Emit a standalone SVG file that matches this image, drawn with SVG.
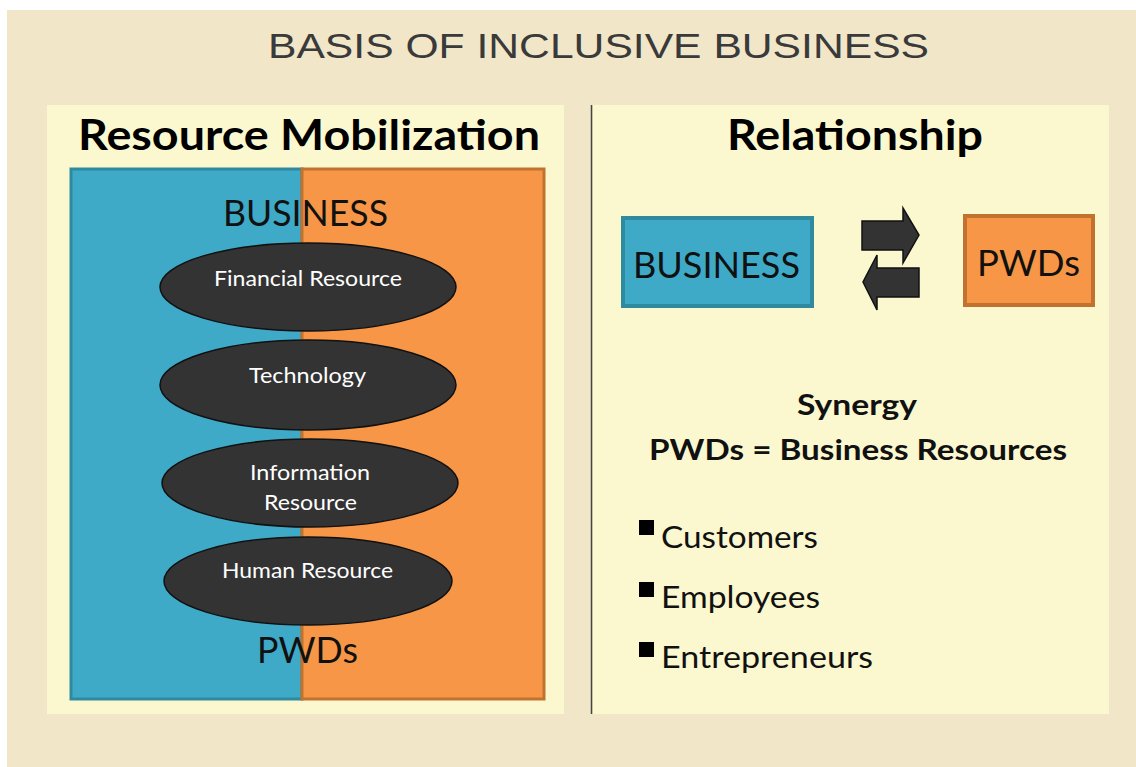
<svg xmlns="http://www.w3.org/2000/svg" width="1136" height="767" viewBox="0 0 1136 767">
<style>
.t{font-family:Lato,"Liberation Sans",sans-serif;}
.b{font-weight:bold;}
.ell{fill:#333333;stroke:#111111;stroke-width:1.5;}
.et{fill:#ffffff;font-size:21px;text-anchor:start;}
.arr{fill:#333333;stroke:#111111;stroke-width:1.5;}
.bul{fill:#000000;}
.li{font-size:30px;fill:#111111;}
</style>
<rect x="0" y="0" width="1136" height="767" fill="#ffffff"/>
<rect x="7" y="10" width="1129" height="757" fill="#f1e7c8"/>
<g id="title"><text x="268" y="58" font-family="'Liberation Sans',Arial,sans-serif" font-size="35" fill="#3a3a3a" textLength="661" lengthAdjust="spacingAndGlyphs">BASIS OF INCLUSIVE BUSINESS</text></g>

<g id="left-panel">
<rect x="47" y="105" width="517" height="609" fill="#fbf8d0"/>
<text class="t b" x="78" y="150" font-size="42" fill="#000" textLength="462" lengthAdjust="spacingAndGlyphs">Resource Mobilization</text>
<rect x="71" y="169" width="231" height="530" fill="#3eaac8" stroke="#2f8aa0" stroke-width="3"/>
<rect x="302" y="169" width="242" height="530" fill="#f79646" stroke="#c0722e" stroke-width="3"/>
<text class="t" x="223" y="226" font-size="36" fill="#111" textLength="165" lengthAdjust="spacingAndGlyphs">BUSINESS</text>
<text class="t" x="257" y="663" font-size="36" fill="#111" textLength="101" lengthAdjust="spacingAndGlyphs">PWDs</text>
</g>

<g id="financial"><ellipse class="ell" cx="308" cy="287" rx="148" ry="44"/><text class="t et" x="214" y="286" textLength="188" lengthAdjust="spacingAndGlyphs">Financial Resource</text></g>
<g id="technology"><ellipse class="ell" cx="308" cy="385" rx="148" ry="45"/><text class="t et" x="249" y="383" textLength="117" lengthAdjust="spacingAndGlyphs">Technology</text></g>
<g id="information"><ellipse class="ell" cx="310" cy="483" rx="148" ry="44"/><text class="t et" x="250" y="480" textLength="120" lengthAdjust="spacingAndGlyphs">Information</text><text class="t et" x="264" y="510" textLength="93" lengthAdjust="spacingAndGlyphs">Resource</text></g>
<g id="human"><ellipse class="ell" cx="308" cy="581" rx="144" ry="44"/><text class="t et" x="222" y="578" textLength="171" lengthAdjust="spacingAndGlyphs">Human Resource</text></g>

<line x1="591.5" y1="105" x2="591.5" y2="714" stroke="#444" stroke-width="1.5"/>

<g id="right-panel">
<rect x="593" y="105" width="516" height="609" fill="#fbf8d0"/>
<text class="t b" x="727" y="150" font-size="42" fill="#000" textLength="256" lengthAdjust="spacingAndGlyphs">Relationship</text>
<text class="t b" x="797" y="415" font-size="28" fill="#111" textLength="120" lengthAdjust="spacingAndGlyphs">Synergy</text>
<text class="t b" x="649" y="460" font-size="28" fill="#111" textLength="418" lengthAdjust="spacingAndGlyphs">PWDs = Business Resources</text>
<rect class="bul" x="639" y="520" width="15" height="15"/>
<text class="t li" x="661" y="548" textLength="157" lengthAdjust="spacingAndGlyphs">Customers</text>
<rect class="bul" x="639" y="582" width="15" height="15"/>
<text class="t li" x="661" y="608" textLength="159" lengthAdjust="spacingAndGlyphs">Employees</text>
<rect class="bul" x="639" y="642" width="15" height="15"/>
<text class="t li" x="661" y="668" textLength="212" lengthAdjust="spacingAndGlyphs">Entrepreneurs</text>
</g>

<g id="business-box"><rect x="623" y="218" width="189" height="88" fill="#3eaac8" stroke="#2f8aa0" stroke-width="4"/><text class="t" x="633" y="278" font-size="36" fill="#111" textLength="167" lengthAdjust="spacingAndGlyphs">BUSINESS</text></g>
<g id="pwds-box"><rect x="965" y="216" width="128" height="89" fill="#f79646" stroke="#c0722e" stroke-width="4"/><text class="t" x="977" y="276" font-size="36" fill="#111" textLength="103" lengthAdjust="spacingAndGlyphs">PWDs</text></g>

<g id="connectors">
<polygon class="arr" points="862,221 903,221 903,208 919,235 903,263 903,250 862,250"/>
<polygon class="arr" points="919,268 877,268 877,255 863,282 877,310 877,297 919,297"/>
</g>
</svg>
